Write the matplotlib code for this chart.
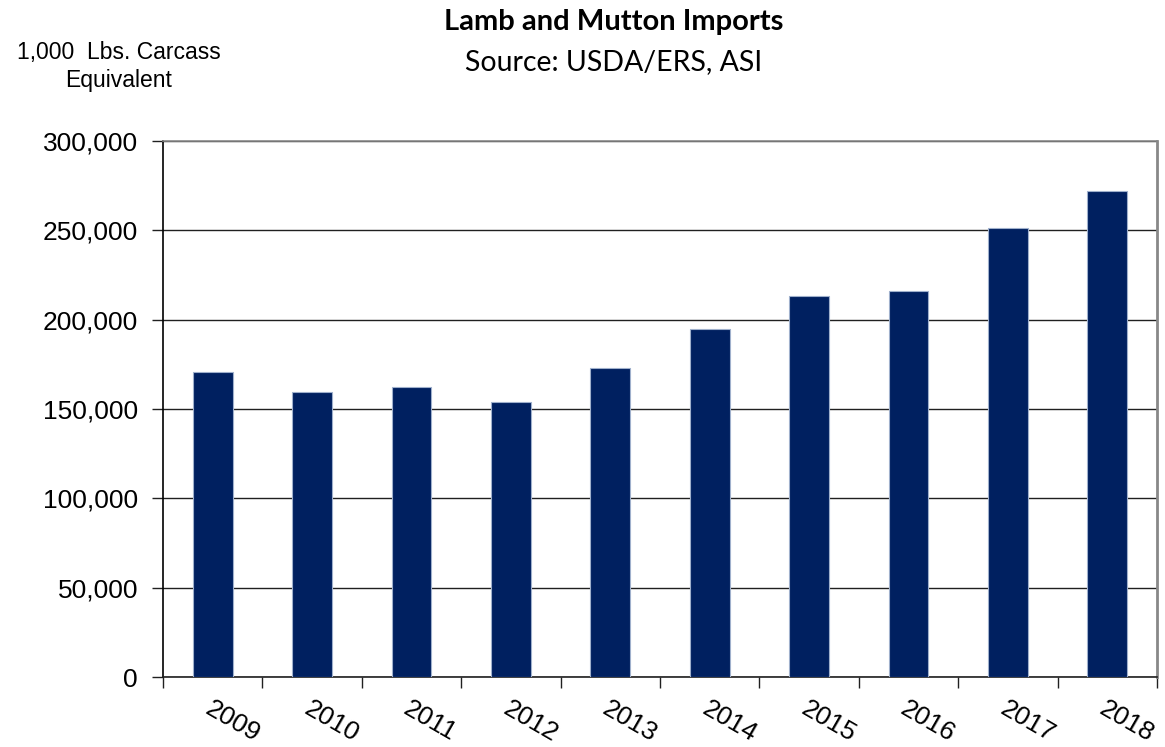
import matplotlib
matplotlib.use("Agg")
import matplotlib.pyplot as plt
import numpy as np
from matplotlib.ticker import FuncFormatter, FixedLocator
from matplotlib.transforms import ScaledTranslation

years = ["2009", "2010", "2011", "2012", "2013", "2014", "2015", "2016", "2017", "2018"]
imports = [170900, 159500, 162200, 153800, 173000, 194800, 213200, 216000, 251200, 272000]
yticks = [0, 50000, 100000, 150000, 200000, 250000, 300000]

plt.rcParams['font.family'] = ['Liberation Sans', 'DejaVu Sans']

fig = plt.figure(figsize=(11.65, 7.47), dpi=100)
ax = fig.add_axes([0.1399, 0.0937, 0.9931 - 0.1399, 0.8112 - 0.0937])

x = np.arange(len(years))
ax.bar(x, imports, width=0.4, color='#002060', edgecolor='#9fb0cc', linewidth=0.8, zorder=3)

ax.set_xlim(-0.5, len(years) - 0.5)
ax.set_ylim(0, 300000)
ax.set_yticks(yticks)
ax.yaxis.set_major_formatter(FuncFormatter(lambda v, p: f"{int(v):,}"))
ax.yaxis.grid(True, color='#202020', linewidth=1.0, zorder=0)
ax.set_axisbelow(True)

ax.set_xticks(x)
ax.set_xticklabels(years, rotation=-30, ha='left', va='top', rotation_mode='anchor', fontsize=19)
ax.xaxis.set_minor_locator(FixedLocator(np.arange(-0.5, len(years), 1.0)))
ax.tick_params(axis='x', which='major', length=0, pad=14)
ax.tick_params(axis='x', which='minor', length=8, width=1, color='#202020', direction='out')
ax.tick_params(axis='y', which='major', length=8, width=1, color='#202020', labelsize=19, pad=10)
for lab in ax.get_xticklabels():
    lab.set_transform(lab.get_transform() + ScaledTranslation(0.0, 0, fig.dpi_scale_trans))

ax.spines['left'].set_color('#000000')
ax.spines['bottom'].set_color('#202020')
ax.spines['top'].set_color('#888888')
ax.spines['right'].set_color('#888888')
for s in ax.spines.values():
    s.set_linewidth(1.2)
ax.spines['right'].set_linewidth(2)

fig.text(0.527, 0.970, "Lamb and Mutton Imports", ha='center', va='center', fontsize=21, fontweight='bold', family=['Lato', 'DejaVu Sans'])
fig.text(0.527, 0.917, "Source: USDA/ERS, ASI", ha='center', va='center', fontsize=20.5, family=['Lato', 'DejaVu Sans'])
fig.text(0.102, 0.930, "1,000  Lbs. Carcass", ha='center', va='center', fontsize=16.5)
fig.text(0.102, 0.892, "Equivalent", ha='center', va='center', fontsize=16.5)

fig.savefig("out.png", dpi=100)
